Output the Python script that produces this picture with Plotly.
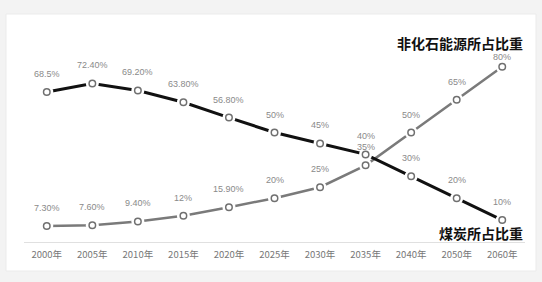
import plotly.graph_objects as go

years = ["2000年", "2005年", "2010年", "2015年", "2020年", "2025年", "2030年", "2035年", "2040年", "2050年", "2060年"]
coal = [68.5, 72.4, 69.2, 63.8, 56.8, 50, 45, 40, 30, 20, 10]
coal_labels = ["68.5%", "72.40%", "69.20%", "63.80%", "56.80%", "50%", "45%", "40%", "30%", "20%", "10%"]
nonfossil = [7.3, 7.6, 9.4, 12, 15.9, 20, 25, 35, 50, 65, 80]
nonfossil_labels = ["7.30%", "7.60%", "9.40%", "12%", "15.90%", "20%", "25%", "35%", "50%", "65%", "80%"]

fig = go.Figure()

# lines
fig.add_trace(go.Scatter(x=years, y=nonfossil, mode="lines",
                         line=dict(color="#7a7a7a", width=2.5), hoverinfo="skip", showlegend=False))
fig.add_trace(go.Scatter(x=years, y=coal, mode="lines",
                         line=dict(color="#111111", width=3), hoverinfo="skip", showlegend=False))
# white halos creating gaps around markers
for ys in (nonfossil, coal):
    fig.add_trace(go.Scatter(x=years, y=ys, mode="markers",
                             marker=dict(size=13, color="white", line=dict(width=0)),
                             hoverinfo="skip", showlegend=False))
# open circle markers
for ys in (nonfossil, coal):
    fig.add_trace(go.Scatter(x=years, y=ys, mode="markers",
                             marker=dict(size=6.5, color="white", line=dict(color="#707070", width=1.5)),
                             showlegend=False))

annotations = []
for i, (y, t) in enumerate(zip(coal, coal_labels)):
    annotations.append(dict(x=years[i], y=y, text=t, showarrow=False, yshift=18,
                            font=dict(size=9, color="#8a8a8a", family="Liberation Sans")))
for i, (y, t) in enumerate(zip(nonfossil, nonfossil_labels)):
    shift = 10 if i == len(nonfossil) - 1 else 18
    annotations.append(dict(x=years[i], y=y, text=t, showarrow=False, yshift=shift,
                            font=dict(size=9, color="#8a8a8a", family="Liberation Sans")))

annotations.append(dict(xref="paper", yref="paper", x=1.0, y=(242 - 43) / 219, xanchor="right",
                        yanchor="middle", text="<b>非化石能源所占比重</b>", showarrow=False,
                        font=dict(size=14, color="#111111", family="Noto Sans CJK SC")))
annotations.append(dict(xref="paper", yref="paper", x=1.0, y=(242 - 233) / 219, xanchor="right",
                        yanchor="middle", text="<b>煤炭所占比重</b>", showarrow=False,
                        font=dict(size=14, color="#111111", family="Noto Sans CJK SC")))

fig.update_layout(
    width=542, height=282,
    margin=dict(l=24, r=17, t=23, b=40),
    paper_bgcolor="#f3f3f3",
    plot_bgcolor="rgba(0,0,0,0)",
    annotations=annotations,
    shapes=[dict(type="rect", xref="paper", yref="paper", x0=(6 - 24) / 501, x1=(536 - 24) / 501,
                 y0=(242 - 271) / 219, y1=(242 - 14) / 219, fillcolor="white",
                 line=dict(color="#ebebeb", width=1), layer="below")],
    xaxis=dict(type="category", range=[-0.5, len(years) - 0.5], showgrid=False, showline=True,
               linecolor="#e0e0e0", linewidth=1, ticklabelstandoff=4,
               ticks="", tickfont=dict(size=9.5, color="#777777", family="Noto Sans CJK SC"),
               zeroline=False),
    yaxis=dict(range=[0, 100], visible=False, showgrid=False, zeroline=False),
    font=dict(family="Noto Sans CJK SC"),
)

fig.write_html("out.html")
